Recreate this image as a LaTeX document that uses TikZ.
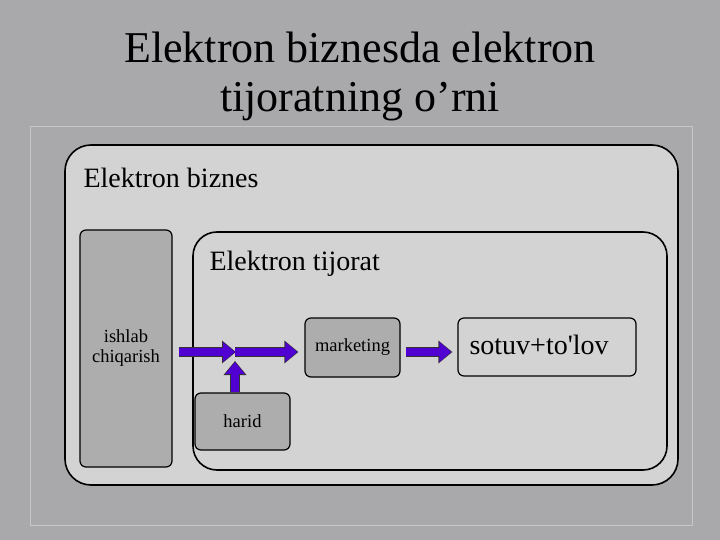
\documentclass[tikz,border=0pt]{standalone}
\usepackage{fontspec}
\setmainfont{Liberation Serif}
\newfontfamily\rawserif{Liberation Serif}[Ligatures=TeXOff]
\usetikzlibrary{arrows.meta}
\definecolor{bgc}{HTML}{A9A9AB}
\definecolor{panel}{HTML}{D3D3D3}
\definecolor{dbox}{HTML}{ADADAD}
\definecolor{arr}{HTML}{5000D0}
\tikzset{
  panelbox/.style={draw=black, line width=1.6pt, fill=panel, rounded corners=26pt},
  graybox/.style={draw=black, line width=1.2pt, fill=dbox, rounded corners=6pt, inner sep=0pt, font=\fontsize{18.5}{20}\selectfont, align=center},
  lightbox/.style={draw=black, line width=1.2pt, fill=panel, rounded corners=6pt, inner sep=0pt},
  biglabel/.style={anchor=west, font=\fontsize{28}{30}\selectfont},
  blockarrowout/.style={line width=10pt, black!80, -{Triangle[width=22pt,length=14pt]}, shorten >=-1pt},
  blockarrow/.style={line width=7.5pt, arr, -{Triangle[width=19pt,length=12pt]}},
}
\begin{document}
\begin{tikzpicture}[x=1pt,y=-1pt]
\fill[bgc] (0,0) rectangle (720,540);
\useasboundingbox (0,0) rectangle (720,540);
\draw[white!35!bgc, line width=1pt] (30,127) rectangle (692,525);
\node[font=\fontsize{44}{49}\selectfont, align=center] (title) at (360,76) {Elektron biznesda elektron\\tijoratning o’rni};
\draw[panelbox] (65,145) rectangle (678,485);
\node[biglabel] (eb) at (80,178) {Elektron biznes};
\node[graybox, minimum width=92pt, minimum height=237pt] (ish) at (126,348.5) {ishlab\\chiqarish};
\draw[panelbox, rounded corners=24pt] (193,232) rectangle (667,470);
\node[biglabel] (et) at (206,264) {Elektron tijorat};
\node[graybox, minimum width=95pt, minimum height=59pt] (mk) at (352.5,347.5) {marketing};
\node[lightbox, minimum width=178pt, minimum height=58pt] (sot) at (547,347) {};
\node[biglabel] (sott) at (466,345) {\rawserif sotuv+to'lov};
\node[graybox, minimum width=95pt, minimum height=57pt] (har) at (242.5,421.5) {harid};
\coordinate (j) at (235,352);
\coordinate (h) at (235,362);
\foreach \s in {blockarrowout,blockarrow}{
  \draw[\s] (har.north -| h) -- (h);
  \draw[\s] (ish.east |- j) ++(6,0) -- (j);
  \draw[\s] (j) -- ([xshift=-7pt]mk.west |- j);
  \draw[\s] ([xshift=5pt]mk.east |- j) -- ([xshift=-6pt]sot.west |- j);
}
\end{tikzpicture}
\end{document}
